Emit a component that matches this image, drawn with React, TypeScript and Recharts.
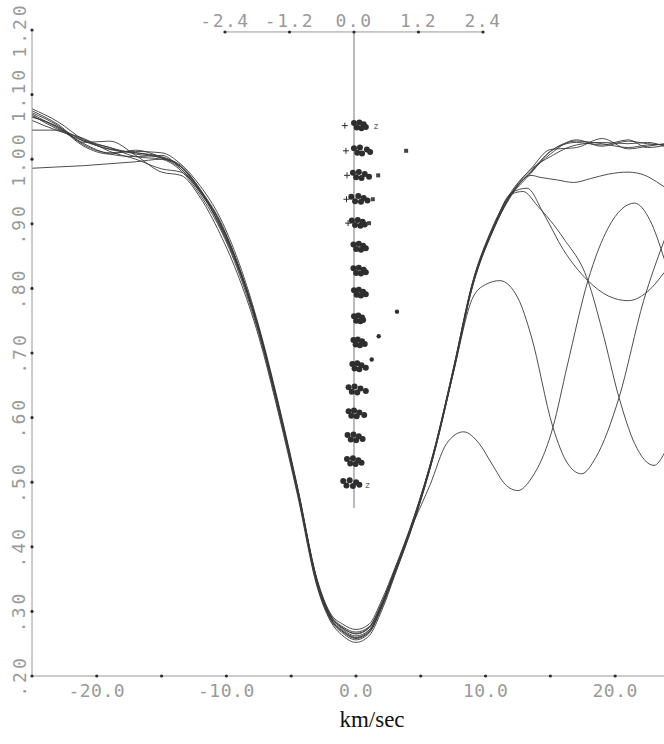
import {
  ComposedChart,
  Line,
  Scatter,
  XAxis,
  YAxis,
  ReferenceLine,
  Label,
} from 'recharts'

// velocity grid (km/sec) shared by the profiles that stay in the main bundle
const VEL_STD = [-25, -23, -21, -19, -17, -15, -13.5, -12, -10.5, -9, -7.5, -6, -4.5, -3, -2, -1, 0, 1, 2, 3, 4.5, 6, 7.5, 9, 10.5, 12, 13.5, 15, 17, 19, 21, 22.5, 23.8]

const FLUX_1 = [1.078, 1.058, 1.03, 1.015, 1.01, 1.004, 0.988, 0.952, 0.905, 0.832, 0.738, 0.62, 0.488, 0.348, 0.296, 0.276, 0.268, 0.276, 0.314, 0.364, 0.446, 0.546, 0.672, 0.806, 0.888, 0.946, 0.98, 1.008, 1.03, 1.02, 1.028, 1.024, 1.022]
const FLUX_2 = [1.072, 1.052, 1.022, 1.01, 1.012, 1.01, 0.992, 0.958, 0.91, 0.838, 0.742, 0.624, 0.492, 0.35, 0.298, 0.28, 0.272, 0.28, 0.318, 0.367, 0.448, 0.548, 0.675, 0.81, 0.893, 0.95, 0.985, 1.015, 1.018, 1.032, 1.016, 1.02, 1.024]
const FLUX_3 = [1.068, 1.046, 1.028, 1.018, 1.004, 1.0, 0.982, 0.944, 0.893, 0.822, 0.73, 0.612, 0.482, 0.34, 0.288, 0.266, 0.256, 0.266, 0.306, 0.358, 0.441, 0.542, 0.668, 0.803, 0.886, 0.944, 0.978, 1.012, 1.026, 1.022, 1.03, 1.018, 1.021]
const FLUX_4 = [1.065, 1.05, 1.02, 1.008, 1.014, 1.003, 0.99, 0.953, 0.902, 0.83, 0.736, 0.618, 0.487, 0.345, 0.292, 0.27, 0.26, 0.27, 0.309, 0.361, 0.444, 0.545, 0.673, 0.808, 0.892, 0.948, 0.984, 1.004, 1.022, 1.026, 1.024, 1.026, 1.02]
const FLUX_5 = [0.986, 0.988, 0.99, 0.993, 0.996, 1.0, 0.988, 0.952, 0.896, 0.826, 0.733, 0.615, 0.485, 0.344, 0.29, 0.268, 0.258, 0.268, 0.308, 0.36, 0.443, 0.544, 0.67, 0.805, 0.889, 0.947, 0.981, 1.012, 1.028, 1.024, 1.018, 1.022, 1.023]

// profiles that leave the bundle on the red side
const VEL_6 = [...VEL_STD.slice(0, 27), 14.2, 15.5, 16.8, 18.1, 19.5, 21, 22.3, 23.2, 23.8]
const FLUX_6 = [1.075, 1.054, 1.026, 1.028, 1.006, 0.98, 0.975, 0.94, 0.885, 0.815, 0.725, 0.608, 0.479, 0.338, 0.286, 0.262, 0.252, 0.262, 0.302, 0.356, 0.44, 0.542, 0.669, 0.804, 0.886, 0.945, 0.975, 0.972, 0.968, 0.964, 0.97, 0.977, 0.98, 0.975, 0.965, 0.957]

const VEL_7 = [...VEL_STD.slice(0, 26), 13.2, 14.5, 16, 17.9, 19.5, 21, 22.5, 23.8]
const FLUX_7 = [1.06, 1.044, 1.032, 1.012, 1.0, 0.985, 0.98, 0.948, 0.897, 0.828, 0.736, 0.619, 0.489, 0.347, 0.294, 0.274, 0.266, 0.275, 0.313, 0.365, 0.447, 0.547, 0.674, 0.809, 0.889, 0.948, 0.955, 0.915, 0.86, 0.812, 0.788, 0.781, 0.795, 0.825]

const VEL_8 = [...VEL_STD.slice(0, 26), 12.9, 14, 16, 17.9, 19, 20.3, 21.5, 23, 23.8]
const FLUX_8 = [1.045, 1.045, 1.03, 1.018, 1.008, 1.002, 0.985, 0.95, 0.902, 0.831, 0.737, 0.619, 0.488, 0.346, 0.294, 0.272, 0.262, 0.271, 0.31, 0.362, 0.444, 0.545, 0.671, 0.806, 0.888, 0.946, 0.95, 0.928, 0.878, 0.812, 0.735, 0.631, 0.56, 0.526, 0.545]

const VEL_9 = [...VEL_STD.slice(0, 23), 9, 10, 11.1, 12.5, 13.5, 15.2, 16.3, 17.4, 18.5, 20.3, 22.2, 23.8]
const FLUX_9 = [1.07, 1.048, 1.024, 1.008, 1.004, 1.006, 0.985, 0.948, 0.899, 0.829, 0.736, 0.617, 0.486, 0.343, 0.29, 0.269, 0.259, 0.268, 0.308, 0.36, 0.443, 0.543, 0.668, 0.785, 0.806, 0.812, 0.785, 0.728, 0.585, 0.53, 0.513, 0.538, 0.631, 0.781, 0.875]

const VEL_10 = [...VEL_STD.slice(0, 21), 5.7, 7, 8.3, 9.5, 10.5, 11.5, 12.5, 13.5, 15.2, 16.3, 17.9, 19.5, 21.5, 22.7, 23.8]
const FLUX_10 = [1.066, 1.05, 1.028, 1.016, 1.01, 1.002, 0.988, 0.95, 0.903, 0.831, 0.738, 0.62, 0.49, 0.348, 0.295, 0.274, 0.265, 0.274, 0.312, 0.363, 0.44, 0.495, 0.56, 0.578, 0.56, 0.528, 0.497, 0.487, 0.505, 0.585, 0.68, 0.812, 0.895, 0.932, 0.905, 0.845]

// bisector levels (flux) and bisector positions (top axis, km/sec)
const BIS_LEVELS = [1.052, 1.013, 0.975, 0.938, 0.901, 0.864, 0.827, 0.793, 0.753, 0.716, 0.679, 0.643, 0.606, 0.569, 0.532, 0.498]
const BIS_X = [
  [0.0, 0.05, 0.1, 0.14, 0.18, 0.22],
  [0.0, 0.06, 0.11, 0.15, 0.24, 0.3],
  [-0.02, 0.04, 0.09, 0.14, 0.2, 0.28],
  [-0.05, 0.02, 0.08, 0.13, 0.18, 0.25],
  [-0.04, 0.02, 0.07, 0.12, 0.16, 0.2],
  [-0.01, 0.04, 0.09, 0.13, 0.17, 0.22],
  [-0.01, 0.04, 0.09, 0.13, 0.18, 0.22],
  [0.0, 0.05, 0.09, 0.13, 0.17, 0.22],
  [0.0, 0.04, 0.08, 0.12, 0.15, 0.17],
  [-0.01, 0.03, 0.07, 0.11, 0.15, 0.2],
  [-0.03, 0.01, 0.06, 0.1, 0.14, 0.22],
  [-0.1, -0.04, 0.01, 0.06, 0.12, 0.22],
  [-0.1, -0.05, 0.0, 0.05, 0.1, 0.19],
  [-0.12, -0.06, -0.01, 0.04, 0.09, 0.16],
  [-0.13, -0.07, -0.02, 0.03, 0.08, 0.14],
  [-0.2, -0.14, -0.08, -0.02, 0.04, 0.1],
]
const BIS_DY = [0.004, -0.003, 0.005, -0.004, 0.002, -0.002]

const PLUS_X = [-0.17, -0.15, -0.13, -0.14, -0.11]
const PLUS_Y = [1.052, 1.013, 0.975, 0.938, 0.901]
const SQUARE_X = [0.97, 0.45, 0.35, 0.28]
const SQUARE_Y = [1.013, 0.975, 0.938, 0.901]
const STRAY_X = [0.8, 0.46, 0.33]
const STRAY_Y = [0.764, 0.726, 0.69]
const Z_X = [0.36, 0.2]
const Z_Y = [1.052, 0.496]

const Y_TICKS = [0.2, 0.3, 0.4, 0.5, 0.6, 0.7, 0.8, 0.9, 1.0, 1.1, 1.2]
const X_TICKS = [-20, -15, -10, -5, 0, 5, 10, 15, 20]
const TOP_TICKS = [-2.4, -1.2, 0, 1.2, 2.4]

const toPoints = (xs: number[], ys: number[]) => xs.map((x, i) => ({ x, y: ys[i] }))

const profiles = [
  toPoints(VEL_STD, FLUX_1),
  toPoints(VEL_STD, FLUX_2),
  toPoints(VEL_STD, FLUX_3),
  toPoints(VEL_STD, FLUX_4),
  toPoints(VEL_STD, FLUX_5),
  toPoints(VEL_6, FLUX_6),
  toPoints(VEL_7, FLUX_7),
  toPoints(VEL_8, FLUX_8),
  toPoints(VEL_9, FLUX_9),
  toPoints(VEL_10, FLUX_10),
]

const bisector = BIS_LEVELS.flatMap((level, row) =>
  BIS_X[row].map((x, i) => ({ x, y: level + BIS_DY[i] }))
)

const W = 664
const H = 744
const LEFT = 32
const TOP = 30
const BOTTOM = 676

const GREY = '#9a9a9a'
const INK = '#2e2e2e'
const MONO = '"DejaVu Sans Mono", monospace'

function LeftTick({ y, payload }: any) {
  const v = payload.value as number
  const label = v >= 1 ? v.toFixed(2) : v.toFixed(2).slice(1)
  return (
    <g>
      <circle cx={LEFT} cy={y} r={1.6} fill={INK} />
      <text
        x={19}
        y={y}
        transform={`rotate(-90 19 ${y})`}
        textAnchor="middle"
        dominantBaseline="central"
        fontFamily={MONO}
        fontSize={18}
        letterSpacing={3}
        fill={GREY}
      >
        {label}
      </text>
    </g>
  )
}

function BottomTick({ x, payload }: any) {
  const v = payload.value as number
  return (
    <g>
      <circle cx={x} cy={BOTTOM} r={1.6} fill={INK} />
      {v % 10 === 0 && (
        <text x={x} y={697} textAnchor="middle" fontFamily={MONO} fontSize={18} letterSpacing={0.5} fill={GREY}>
          {v.toFixed(1)}
        </text>
      )}
    </g>
  )
}

function TopTick({ x, payload }: any) {
  const v = payload.value as number
  return (
    <g>
      <circle cx={x} cy={32} r={1.6} fill={INK} />
      <text x={x} y={27} textAnchor="middle" fontFamily={MONO} fontSize={18} letterSpacing={1.5} fill={GREY}>
        {v.toFixed(1)}
      </text>
    </g>
  )
}

export default function App() {
  return (
    <div style={{ position: 'absolute', left: 0, top: 0, width: W, height: H, background: '#fff' }}>
      <ComposedChart width={W} height={H} margin={{ top: 0, right: 0, bottom: 0, left: 0 }}>
        <XAxis
          xAxisId="bottom"
          dataKey="x"
          type="number"
          domain={[-25, 23.77]}
          allowDataOverflow
          ticks={X_TICKS}
          height={H - BOTTOM}
          stroke={GREY}
          tickLine={false}
          tick={<BottomTick />}
        >
          <Label
            content={() => (
              <text x={372} y={727} textAnchor="middle" fontFamily='"Liberation Serif", serif' fontSize={23} fill="#111">
                km/sec
              </text>
            )}
          />
        </XAxis>
        <XAxis
          xAxisId="top"
          orientation="top"
          dataKey="x"
          type="number"
          domain={[-5.99, 5.767]}
          allowDataOverflow
          ticks={TOP_TICKS}
          height={TOP}
          axisLine={false}
          tickLine={false}
          tick={<TopTick />}
        />
        <YAxis
          dataKey="y"
          type="number"
          domain={[0.2, 1.2]}
          allowDataOverflow
          ticks={Y_TICKS}
          width={LEFT}
          stroke={GREY}
          tickLine={false}
          tick={<LeftTick />}
        />
        <ReferenceLine
          xAxisId="top"
          segment={[{ x: -2.4, y: 1.197 }, { x: 2.4, y: 1.197 }]}
          stroke={GREY}
          strokeWidth={1}
        />
        <ReferenceLine
          xAxisId="top"
          segment={[{ x: 0, y: 1.197 }, { x: 0, y: 0.46 }]}
          stroke="#777"
          strokeWidth={1}
        />
        {profiles.map((pts, i) => (
          <Line
            key={`p-${i}`}
            xAxisId="bottom"
            data={pts}
            dataKey="y"
            type="monotone"
            stroke="#3a3a3a"
            strokeWidth={0.9}
            dot={false}
            isAnimationActive={false}
          />
        ))}
        <Scatter
          xAxisId="top"
          data={bisector}
          dataKey="y"
          isAnimationActive={false}
          shape={(p: any) => <circle cx={p.cx} cy={p.cy} r={3} fill={INK} />}
        />
        <Scatter
          xAxisId="top"
          data={toPoints(PLUS_X, PLUS_Y)}
          dataKey="y"
          isAnimationActive={false}
          shape={(p: any) => (
            <path
              d={`M${p.cx - 3},${p.cy}H${p.cx + 3}M${p.cx},${p.cy - 3}V${p.cy + 3}`}
              stroke={INK}
              strokeWidth={1}
            />
          )}
        />
        <Scatter
          xAxisId="top"
          data={toPoints(SQUARE_X, SQUARE_Y)}
          dataKey="y"
          isAnimationActive={false}
          shape={(p: any) => <rect x={p.cx - 2} y={p.cy - 2} width={4} height={4} fill="#444" />}
        />
        <Scatter
          xAxisId="top"
          data={toPoints(STRAY_X, STRAY_Y)}
          dataKey="y"
          isAnimationActive={false}
          shape={(p: any) => <circle cx={p.cx} cy={p.cy} r={2.2} fill={INK} />}
        />
        <Scatter
          xAxisId="top"
          data={toPoints(Z_X, Z_Y)}
          dataKey="y"
          isAnimationActive={false}
          shape={(p: any) => (
            <text x={p.cx} y={p.cy + 3} fontSize={9} fontFamily={MONO} fill="#666">
              z
            </text>
          )}
        />
      </ComposedChart>
    </div>
  )
}
